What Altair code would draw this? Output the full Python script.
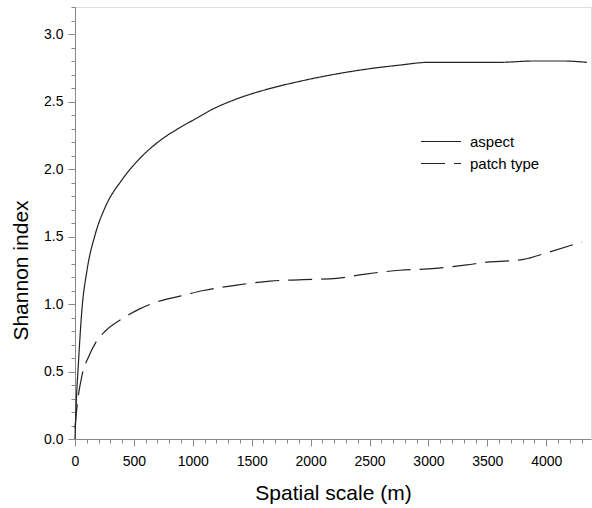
import altair as alt
import pandas as pd

aspect_x = [0, 8, 31, 59, 102, 173, 258, 399, 541, 736, 878, 1019, 1161, 1345, 1628, 1911, 2194, 2477, 2760, 3000, 3326, 3600, 3890, 4146, 4345]
aspect_y = [0.0, 0.21, 0.59, 0.96, 1.25, 1.52, 1.72, 1.92, 2.07, 2.22, 2.30, 2.37, 2.44, 2.51, 2.59, 2.65, 2.70, 2.74, 2.77, 2.79, 2.79, 2.79, 2.80, 2.80, 2.79]

patch_x = [0, 17, 59, 116, 173, 258, 399, 541, 711, 900, 1090, 1373, 1656, 1939, 2222, 2449, 2760, 3000, 3326, 3500, 3700, 3808, 4006, 4303]
patch_y = [0.08, 0.24, 0.47, 0.61, 0.71, 0.80, 0.89, 0.96, 1.02, 1.06, 1.10, 1.14, 1.17, 1.18, 1.19, 1.22, 1.25, 1.26, 1.29, 1.31, 1.32, 1.33, 1.38, 1.46]

series_names = ["aspect", "patch type"]
x_ticks = list(range(0, 4400, 100))
y_ticks = [round(i * 0.1, 1) for i in range(0, 33)]

df = pd.concat([
    pd.DataFrame({"x": aspect_x, "y": aspect_y, "s": series_names[0], "o": range(len(aspect_x))}),
    pd.DataFrame({"x": patch_x, "y": patch_y, "s": series_names[1], "o": range(len(patch_x))}),
])

FONT = "Liberation Sans"

chart = alt.Chart(df).mark_line(color="#222", strokeWidth=1.2, interpolate="monotone").encode(
    x=alt.X("x:Q", scale=alt.Scale(domain=[0, 4380], nice=False, zero=False),
            axis=alt.Axis(title="Spatial scale (m)", values=x_ticks, format="d",
                          labelExpr="datum.value % 500 === 0 ? datum.label : ''",
                          labelOverlap=False, labelFlush=False,
                          tickSize={"condition": {"test": "datum.value % 500 === 0", "value": 7}, "value": 4},
                          labelFontSize=14, titleFontSize=21, labelPadding=8, titlePadding=14,
                          titleFontWeight="normal", grid=False)),
    y=alt.Y("y:Q", scale=alt.Scale(domain=[0, 3.2], nice=False),
            axis=alt.Axis(title="Shannon index", values=y_ticks, format=".1f",
                          labelExpr="round(datum.value*10) % 5 === 0 ? datum.label : ''",
                          labelOverlap=False, labelFlush=False,
                          tickSize={"condition": {"test": "round(datum.value*10) % 5 === 0", "value": 7}, "value": 4},
                          labelFontSize=14, titleFontSize=21, labelPadding=5, titlePadding=12,
                          titleFontWeight="normal", titleY=263, grid=False)),
    strokeDash=alt.StrokeDash("s:N", scale=alt.Scale(domain=series_names, range=[[1, 0], [24, 9]]),
                              legend=alt.Legend(title=None, orient="none", legendX=345, legendY=127,
                                                symbolType="stroke", symbolSize=1600,
                                                symbolStrokeColor="#222", symbolStrokeWidth=1.2,
                                                labelFontSize=15, labelOffset=8, padding=0,
                                                clipHeight=15, rowPadding=6)),
    order="o:Q",
).properties(
    width=516, height=432,
    autosize=alt.AutoSizeParams(type="none"),
    padding={"left": 75, "top": 7, "right": 1, "bottom": 69},
).configure_view(
    stroke="#333", strokeWidth=1
).configure_axis(
    domainColor="#222", tickColor="#222", labelColor="#333", titleColor="#333",
    labelFont=FONT, titleFont=FONT,
).configure_legend(
    labelFont=FONT, labelColor="#333"
).configure(background="white")

chart.save("out.html", embed_options={"renderer": "svg", "actions": False})
